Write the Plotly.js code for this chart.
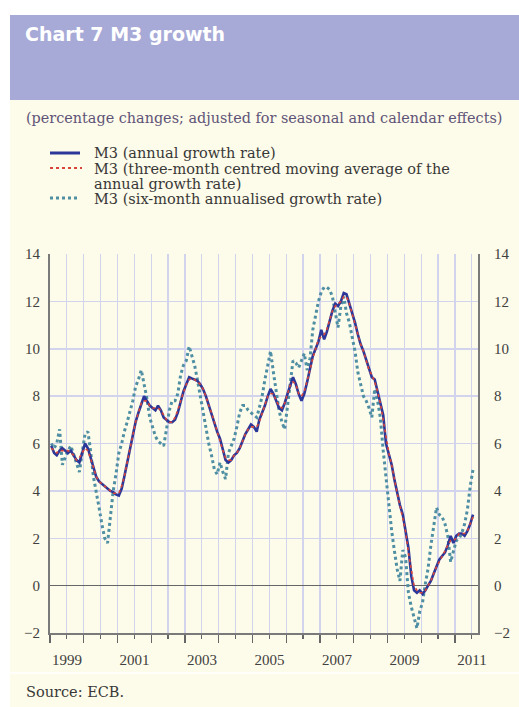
<!DOCTYPE html>
<html>
<head>
<meta charset="utf-8">
<script src="https://cdn.plot.ly/plotly-3.0.1.min.js"></script>
<style>
html,body{margin:0;padding:0;background:#fff;}
#chart{width:519px;height:707px;}
</style>
</head>
<body>
<div id="chart"></div>
<script>
// ---- Data (monthly, Jan 1999 - Jul 2011) ----
const firstYear = 1999;
const monthCount = 151;

const m3Annual = [
  5.9, 5.6, 5.5, 5.7, 5.8, 5.7, 5.6, 5.7, 5.5, 5.3, 5.2, 5.6,
  6.0, 5.8, 5.4, 4.9, 4.6, 4.4, 4.3, 4.2, 4.1, 4.0, 3.95, 3.85,
  3.8, 4.1, 4.6, 5.2, 5.7, 6.4, 6.9, 7.3, 7.7, 8.0, 7.8, 7.6,
  7.5, 7.4, 7.6, 7.4, 7.1, 7.0, 6.9, 6.9, 7.0, 7.3, 7.8, 8.2,
  8.5, 8.8, 8.75, 8.7, 8.65, 8.5, 8.3, 8.0, 7.6, 7.3, 6.9, 6.5,
  6.2, 5.7, 5.3, 5.2, 5.3, 5.5, 5.6, 5.8, 6.1, 6.4, 6.6, 6.8,
  6.7, 6.5, 7.0, 7.3, 7.6, 8.0, 8.3, 8.1, 7.8, 7.5, 7.4, 7.7,
  8.1, 8.5, 8.8, 8.5, 8.1, 7.8, 8.1, 8.6, 9.1, 9.7, 10.0, 10.3,
  10.8, 10.4, 10.7, 11.2, 11.6, 11.9, 11.8, 12.0, 12.35, 12.3, 11.9, 11.6,
  11.1, 10.6, 10.2, 9.9, 9.5, 9.1, 8.8, 8.7, 8.2, 7.8, 7.2, 6.0,
  5.6, 5.1, 4.5, 3.9, 3.4, 3.0, 2.3, 1.6, 0.4, -0.2, -0.3, -0.2,
  -0.35, -0.2, 0.0, 0.2, 0.5, 0.8, 1.1, 1.25, 1.4, 1.7, 2.1, 1.8,
  2.1, 2.2, 2.2, 2.1, 2.3, 2.6, 3.0
];

const m3MovingAvg = [
  5.8, 5.7, 5.6, 5.7, 5.7, 5.7, 5.7, 5.6, 5.5, 5.3, 5.4, 5.6,
  5.8, 5.7, 5.4, 5.0, 4.6, 4.4, 4.3, 4.2, 4.1, 4.0, 3.9, 3.9,
  3.9, 4.2, 4.6, 5.2, 5.8, 6.3, 6.9, 7.3, 7.7, 7.8, 7.8, 7.6,
  7.5, 7.5, 7.5, 7.4, 7.2, 7.0, 6.9, 6.9, 7.1, 7.4, 7.8, 8.2,
  8.5, 8.7, 8.75, 8.7, 8.6, 8.5, 8.3, 8.0, 7.6, 7.3, 6.9, 6.5,
  6.1, 5.7, 5.4, 5.3, 5.3, 5.5, 5.6, 5.8, 6.1, 6.4, 6.6, 6.7,
  6.7, 6.7, 6.9, 7.3, 7.6, 8.0, 8.1, 8.1, 7.8, 7.6, 7.5, 7.7,
  8.1, 8.5, 8.6, 8.5, 8.1, 8.0, 8.2, 8.6, 9.1, 9.6, 10.0, 10.4,
  10.5, 10.6, 10.8, 11.2, 11.6, 11.8, 11.9, 12.0, 12.2, 12.2, 11.9, 11.5,
  11.1, 10.6, 10.2, 9.9, 9.5, 9.1, 8.9, 8.6, 8.2, 7.7, 7.0, 6.3,
  5.6, 5.1, 4.5, 3.9, 3.4, 2.9, 2.3, 1.4, 0.6, 0.0, -0.2, -0.3,
  -0.3, -0.2, 0.0, 0.2, 0.5, 0.8, 1.0, 1.25, 1.45, 1.7, 1.9, 1.9,
  2.0, 2.2, 2.2, 2.2, 2.3, 2.6, 2.9
];

const m3SixMonth = [
  6.0, 5.8, 6.0, 6.6, 5.1, 5.4, 5.7, 5.9, 5.5, 5.1, 4.8, 5.6,
  6.4, 6.5, 5.7, 4.6, 4.0, 3.3, 2.6, 2.0, 1.8, 3.0, 4.0, 4.7,
  5.6, 6.0, 6.5, 6.9, 7.3, 7.8, 8.4, 8.7, 9.1, 8.5, 7.9, 7.1,
  6.7, 6.3, 6.1, 6.0, 5.9, 6.6, 7.4, 7.8, 7.8, 8.1, 8.9, 9.3,
  9.5, 10.1, 9.7, 9.3, 8.7, 8.0, 7.3, 6.6, 6.0, 5.5, 4.9, 4.7,
  5.2, 4.8, 4.5, 5.6, 5.9, 6.2, 6.7, 7.3, 7.6, 7.6, 7.4, 7.3,
  7.2, 7.1, 7.5, 8.0, 8.7, 9.3, 9.9, 9.0, 8.2, 7.4, 6.9, 6.6,
  7.6, 8.6, 9.5, 9.4, 9.2, 9.5, 9.8, 9.1, 9.6, 10.8, 11.4, 12.0,
  12.4, 12.6, 12.6, 12.5, 12.2, 11.5, 10.9, 11.8, 12.2, 11.5, 11.1, 10.5,
  9.9, 9.0, 8.5, 8.0, 7.8, 7.5, 7.1, 8.3, 7.8, 7.1, 5.7, 4.6,
  3.3, 2.3, 1.5, 0.7, 0.2, 1.5, 1.2, -0.3, -0.9, -1.3, -1.8, -1.1,
  -0.7, 0.1, 0.7, 1.7, 2.6, 3.3, 3.0, 2.9, 2.6, 2.1, 1.0, 1.4,
  1.9, 2.0, 2.2, 2.6, 3.2, 4.2, 4.9
];

const labelYears = ['1999', '2001', '2003', '2005', '2007', '2009', '2011'];
const yTicks = [-2, 0, 2, 4, 6, 8, 10, 12, 14];

const legendLines = [
  'M3 (annual growth rate)',
  'M3 (three-month centred moving average of the',
  'annual growth rate)',
  'M3 (six-month annualised growth rate)'
];

// ---- Derived axis helpers ----
const dates = [];
for (let k = 0; k < monthCount; k++) {
  const y = firstYear + Math.floor(k / 12);
  const m = (k % 12) + 1;
  dates.push(y + '-' + String(m).padStart(2, '0') + '-15');
}
// major ticks at each January (label drawn only for the odd years and shifted to mid-year)
const janTicks = [], janText = [], julTicks = [];
for (let y = 1999; y <= 2011; y++) {
  janTicks.push(y + '-01-01');
  janText.push(labelYears.indexOf(String(y)) >= 0 ? String(y) : '');
  julTicks.push(y + '-07-01');
}

// ---- Colours ----
const BLUE = '#2b3799', RED = '#d8453b', TEAL = '#4f8fa3';
const CREAM = '#fdfbe9', LAV = '#a7a9d7', GRID = '#d2d3ec', AXIS = '#7a7a7a';
const serif = 'Liberation Serif, Times New Roman, serif';
const wideSerif = 'DejaVu Serif, serif';

// pixel -> paper conversion (plot area: x 50..478, y 254..633)
const L = 50, R = 478, T = 254, B = 633;
const X = px => (px - L) / (R - L);
const Y = py => (B - py) / (B - T);

const xrange = ['1999-01-01', '2011-09-07'];

const traces = [
  { x: dates, y: m3SixMonth, type: 'scatter', mode: 'lines', name: legendLines[3],
    line: { color: TEAL, width: 3, dash: '3px,3px' } },
  { x: dates, y: m3Annual, type: 'scatter', mode: 'lines', name: legendLines[0],
    line: { color: BLUE, width: 2.6 } },
  { x: dates, y: m3MovingAvg, type: 'scatter', mode: 'lines', name: legendLines[1],
    yaxis: 'y2',
    line: { color: RED, width: 1.6, dash: 'dot' } }
];

const tickFont = { family: serif, size: 15, color: '#404040' };
const legFont = { family: wideSerif, size: 14.5, color: '#383838' };

const ann = (text, px, py, font) => ({
  text: text, xref: 'paper', yref: 'paper', x: X(px), y: Y(py),
  xanchor: 'left', yanchor: 'middle', showarrow: false, font: font
});

const layout = {
  width: 519, height: 707,
  margin: { l: L, r: 519 - R, t: T, b: 707 - B, pad: 0 },
  paper_bgcolor: CREAM, plot_bgcolor: CREAM,
  showlegend: false, hovermode: false,
  title: { text: 'Chart 7 M3 growth', xref: 'container', yref: 'container',
    x: 25 / 519, y: 1 - 34 / 707, xanchor: 'left', yanchor: 'middle',
    font: { family: 'DejaVu Sans', size: 19, color: '#ffffff', weight: 'bold' } },
  xaxis: {
    type: 'date', range: xrange,
    tickmode: 'array', tickvals: janTicks, ticktext: janText,
    ticklabelshift: 17, ticklabelstandoff: 4, tickfont: tickFont,
    ticks: 'outside', ticklen: 8, tickwidth: 1.5, tickcolor: '#666',
    showgrid: true, gridcolor: GRID, gridwidth: 1.5,
    minor: { tickmode: 'array', tickvals: julTicks, ticks: 'outside', ticklen: 4,
      tickwidth: 1.5, tickcolor: '#666', showgrid: true, gridcolor: GRID, gridwidth: 1.5 },
    showline: true, linecolor: AXIS, linewidth: 1.5, zeroline: false
  },
  yaxis: {
    range: [-2, 14], tickmode: 'linear', tick0: 0, dtick: 2,
    showgrid: true, gridcolor: GRID, gridwidth: 1.5,
    minor: { tickmode: 'linear', tick0: 0, dtick: 2, ticks: '',
      showgrid: true, gridcolor: GRID, gridwidth: 1.5 },
    zeroline: true, zerolinecolor: '#666', zerolinewidth: 1.5,
    showline: true, linecolor: AXIS, linewidth: 2,
    ticks: '', ticklabelstandoff: 5, tickfont: tickFont
  },
  yaxis2: {
    range: [-2, 14], overlaying: 'y', side: 'right', anchor: 'x',
    tickmode: 'linear', tick0: 0, dtick: 2,
    showgrid: true, gridcolor: GRID, gridwidth: 1.5, zeroline: false,
    showline: true, linecolor: AXIS, linewidth: 2,
    ticks: '', ticklabelstandoff: 11, tickfont: tickFont
  },
  shapes: [
    { type: 'rect', xref: 'paper', yref: 'paper', x0: X(0), x1: X(10), y0: Y(707), y1: Y(0),
      fillcolor: '#ffffff', line: { width: 0 } },
    { type: 'rect', xref: 'paper', yref: 'paper', x0: X(0), x1: X(519), y0: Y(15), y1: Y(0),
      fillcolor: '#ffffff', line: { width: 0 } },
    { type: 'rect', xref: 'paper', yref: 'paper', x0: X(10), x1: X(519), y0: Y(100), y1: Y(15),
      fillcolor: LAV, line: { width: 0 } },
    { type: 'line', xref: 'paper', yref: 'paper', x0: X(10), x1: X(519), y0: Y(673), y1: Y(673),
      line: { color: '#ffffff', width: 1.5 } },
    { type: 'line', xref: 'paper', yref: 'paper', x0: X(50), x1: X(80), y0: Y(153), y1: Y(153),
      line: { color: BLUE, width: 3 } },
    { type: 'line', xref: 'paper', yref: 'paper', x0: X(50), x1: X(82), y0: Y(168), y1: Y(168),
      line: { color: RED, width: 2, dash: 'dot' } },
    { type: 'line', xref: 'paper', yref: 'paper', x0: X(50), x1: X(80), y0: Y(198), y1: Y(198),
      line: { color: TEAL, width: 3, dash: '3px,3px' } }
  ],
  annotations: [
    ann('(percentage changes; adjusted for seasonal and calendar effects)', 24, 118,
      { family: wideSerif, size: 14.4, color: '#5f5478' }),
    ann(legendLines[0], 92, 153, legFont),
    ann(legendLines[1], 92, 168.5, legFont),
    ann(legendLines[2], 92, 183.5, legFont),
    ann(legendLines[3], 92, 198.5, legFont),
    ann('Source: ECB.', 24, 692, legFont)
  ]
};

Plotly.newPlot('chart', traces, layout, { staticPlot: true, displayModeBar: false });
</script>
</body>
</html>
